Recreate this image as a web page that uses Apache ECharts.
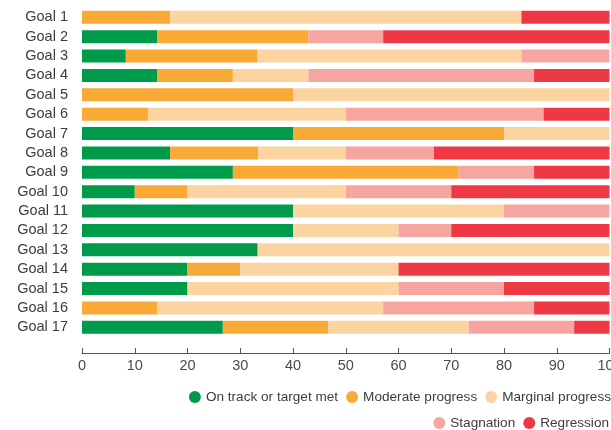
<!DOCTYPE html>
<html>
<head>
<meta charset="utf-8">
<script src="https://cdn.jsdelivr.net/npm/echarts@6/dist/echarts.min.js"></script>
<style>html,body{margin:0;padding:0;background:#fff}#c{width:611px;height:430px}</style>
</head>
<body>
<div id="c"></div>
<script>
const categories = ['Goal 1','Goal 2','Goal 3','Goal 4','Goal 5','Goal 6','Goal 7','Goal 8','Goal 9','Goal 10','Goal 11','Goal 12','Goal 13','Goal 14','Goal 15','Goal 16','Goal 17'];
const onTrack    = [0, 14.3, 8.3, 14.3, 0, 0, 40, 16.7, 28.6, 10, 40, 40, 33.3, 20, 20, 0, 26.7];
const moderate   = [16.7, 28.6, 25, 14.3, 40, 12.5, 40, 16.7, 42.8, 10, 0, 0, 0, 10, 0, 14.3, 20];
const marginal   = [66.6, 0, 50, 14.3, 60, 37.5, 20, 16.6, 0, 30, 40, 20, 66.7, 30, 40, 42.8, 26.6];
const stagnation = [0, 14.2, 16.7, 42.8, 0, 37.5, 0, 16.7, 14.3, 20, 20, 10, 0, 0, 20, 28.6, 20];
const regression = [16.7, 42.9, 0, 14.3, 0, 12.5, 0, 33.3, 14.3, 30, 0, 30, 0, 40, 20, 14.3, 6.7];
const seriesNames = ['On track or target met','Moderate progress','Marginal progress','Stagnation','Regression'];
const colors = ['#009b4a','#f9a935','#fcd4a1','#f6a5a0','#ee3844'];
const xTicks = [0,10,20,30,40,50,60,70,80,90,100];

const font = '"Liberation Sans", Arial, sans-serif';
const values = [onTrack, moderate, marginal, stagnation, regression];
const chart = echarts.init(document.getElementById('c'), null, {renderer:'canvas'});
chart.setOption({
  animation: false,
  color: colors,
  textStyle: {fontFamily: font},
  grid: {left: 82, right: 1.5, top: 7.6, bottom: 93, containLabel: false, outerBoundsMode: 'none'},
  xAxis: {
    type: 'value', min: 0, max: 100, interval: 10, offset: 16,
    axisLine: {show: true, lineStyle: {color: '#555', width: 1}},
    axisTick: {show: true, inside: true, length: 5, lineStyle: {color: '#555'}},
    splitLine: {show: false},
    axisLabel: {color: '#4a4a4a', fontSize: 14.5, fontFamily: font, margin: 5, hideOverlap: false,
      formatter: v => xTicks.includes(v) ? String(v) : ''}
  },
  yAxis: {
    type: 'category', data: categories, inverse: true,
    axisLine: {show: false}, axisTick: {show: false},
    axisLabel: {color: '#3c3c3c', fontSize: 14.5, fontFamily: font, margin: 14, interval: 0, hideOverlap: false}
  },
  legend: [
    {data: seriesNames.slice(0,3), right: 0, top: 389, padding: 0, icon: 'circle', itemWidth: 12, itemHeight: 12, itemGap: 8,
     textStyle: {color: '#3c3c3c', fontSize: 13.6, fontFamily: font, lineHeight: 16}},
    {data: seriesNames.slice(3), right: 2, top: 415, padding: 0, icon: 'circle', itemWidth: 12, itemHeight: 12, itemGap: 8,
     textStyle: {color: '#3c3c3c', fontSize: 13.6, fontFamily: font, lineHeight: 16}}
  ],
  series: seriesNames.map((n, i) => ({
    name: n, type: 'bar', stack: 'total', barWidth: 13, data: values[i],
    itemStyle: {color: colors[i]}
  }))
});
</script>
</body>
</html>
